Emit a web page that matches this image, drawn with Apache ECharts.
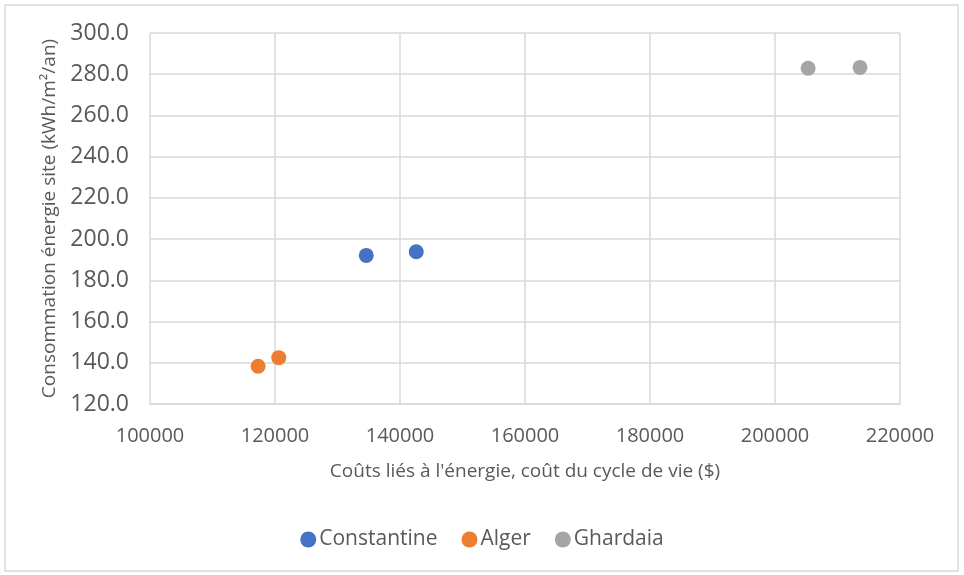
<!DOCTYPE html>
<html>
<head>
<meta charset="utf-8">
<script src="https://cdn.jsdelivr.net/npm/echarts@6/dist/echarts.min.js"></script>
<style>
  html, body { margin: 0; padding: 0; background: #fff; }
  #chart { width: 964px; height: 575px; }
</style>
</head>
<body>
<div id="chart"></div>
<script>
// Life-cycle energy cost vs. site energy use, per city
const seriesNames = ['Constantine', 'Alger', 'Ghardaia'];
const seriesColors = ['#4472C4', '#ED7D31', '#A5A5A5'];
const constantineCost = [134600, 142600];
const constantineEnergy = [192.1, 193.9];
const algerCost = [117300, 120600];
const algerEnergy = [138.3, 142.5];
const ghardaiaCost = [205300, 213600];
const ghardaiaEnergy = [282.9, 283.3];

const xTitle = "Coûts liés à l'énergie, coût du cycle de vie ($)";
const yTitle = 'Consommation énergie site (kWh/m²/an)';

function pairs(xs, ys) { return xs.map((x, i) => [x, ys[i]]); }
const seriesData = [
  pairs(constantineCost, constantineEnergy),
  pairs(algerCost, algerEnergy),
  pairs(ghardaiaCost, ghardaiaEnergy)
];

const font = '"Open Sans", sans-serif';
const textColor = '#595959';
const gridColor = '#D9D9D9';

const chart = echarts.init(document.getElementById('chart'), null, { renderer: 'canvas' });
chart.setOption({
  backgroundColor: '#fff',
  animation: false,
  textStyle: { fontFamily: font, color: textColor },
  graphic: [{
    type: 'rect',
    shape: { x: 5, y: 5, width: 953, height: 566 },
    style: { fill: 'none', stroke: gridColor, lineWidth: 1.5 },
    silent: true
  }],
  grid: { left: 150, right: 64, top: 33, bottom: 171 },
  xAxis: {
    type: 'value',
    min: 100000, max: 220000, interval: 20000,
    name: xTitle,
    nameLocation: 'middle',
    nameGap: 58,
    nameTextStyle: { fontFamily: font, fontSize: 19, color: textColor },
    axisLine: { show: true, lineStyle: { color: gridColor, width: 1.5 } },
    axisTick: { show: false },
    axisLabel: {
      fontFamily: font, fontSize: 20, color: textColor, margin: 22,
      formatter: v => String(v)
    },
    splitLine: { show: true, lineStyle: { color: gridColor, width: 1.5 } }
  },
  yAxis: {
    type: 'value',
    min: 120, max: 300, interval: 20,
    name: yTitle,
    nameLocation: 'middle',
    nameGap: 83,
    nameRotate: 90,
    nameTextStyle: { fontFamily: font, fontSize: 19, color: textColor },
    axisLine: { show: false },
    axisTick: { show: false },
    axisLabel: {
      fontFamily: font, fontSize: 23, color: textColor, margin: 21,
      formatter: v => v.toFixed(1)
    },
    splitLine: { show: true, lineStyle: { color: gridColor, width: 1.5 } }
  },
  legend: {
    bottom: 20,
    left: 'center',
    itemGap: 24,
    itemWidth: 16,
    itemHeight: 16,
    icon: 'circle',
    textStyle: { fontFamily: font, fontSize: 21, color: textColor, padding: [0, 0, 0, -2] },
    data: seriesNames
  },
  series: seriesNames.map((name, i) => ({
    name,
    type: 'scatter',
    symbol: 'circle',
    symbolSize: 15,
    itemStyle: { color: seriesColors[i], opacity: 1 },
    data: seriesData[i]
  }))
});
</script>
</body>
</html>
